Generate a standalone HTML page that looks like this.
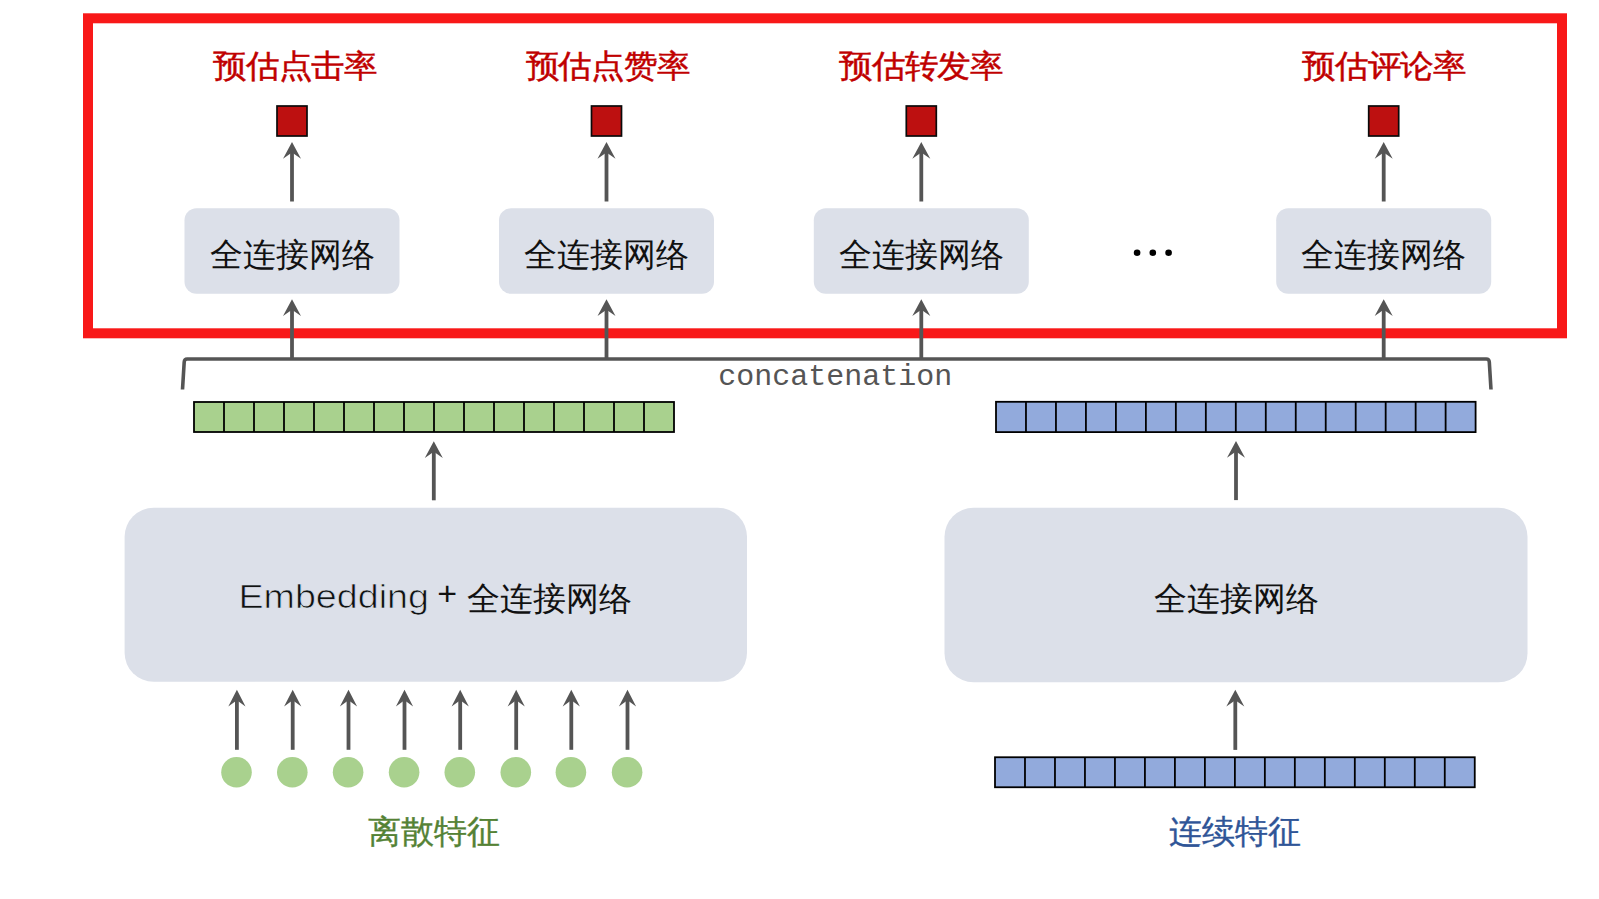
<!DOCTYPE html>
<html><head><meta charset="utf-8"><style>
html,body{margin:0;padding:0;background:#fff;width:1599px;height:899px;overflow:hidden}
svg{display:block}
</style></head><body>
<svg width="1599" height="899" viewBox="0 0 1599 899">
<rect x="88" y="18.3" width="1474" height="315" fill="none" stroke="#F81818" stroke-width="10"/>
<rect x="277" y="106" width="30" height="30" fill="#BD1010" stroke="#0a0a0a" stroke-width="1.7"/>
<line x1="292" y1="201.5" x2="292" y2="151.5" stroke="#555555" stroke-width="3.8"/><path d="M292 142 L301 158.8 L292 152.5 L283 158.8 Z" fill="#555555"/>
<rect x="184.5" y="208.3" width="215" height="85.5" rx="12" fill="#DCE0E9"/>
<line x1="292" y1="360" x2="292" y2="308.7" stroke="#555555" stroke-width="3.8"/><path d="M292 299.2 L301 316.0 L292 309.7 L283 316.0 Z" fill="#555555"/>
<rect x="591.5" y="106" width="30" height="30" fill="#BD1010" stroke="#0a0a0a" stroke-width="1.7"/>
<line x1="606.5" y1="201.5" x2="606.5" y2="151.5" stroke="#555555" stroke-width="3.8"/><path d="M606.5 142 L615.5 158.8 L606.5 152.5 L597.5 158.8 Z" fill="#555555"/>
<rect x="499.0" y="208.3" width="215" height="85.5" rx="12" fill="#DCE0E9"/>
<line x1="606.5" y1="360" x2="606.5" y2="308.7" stroke="#555555" stroke-width="3.8"/><path d="M606.5 299.2 L615.5 316.0 L606.5 309.7 L597.5 316.0 Z" fill="#555555"/>
<rect x="906.3" y="106" width="30" height="30" fill="#BD1010" stroke="#0a0a0a" stroke-width="1.7"/>
<line x1="921.3" y1="201.5" x2="921.3" y2="151.5" stroke="#555555" stroke-width="3.8"/><path d="M921.3 142 L930.3 158.8 L921.3 152.5 L912.3 158.8 Z" fill="#555555"/>
<rect x="813.8" y="208.3" width="215" height="85.5" rx="12" fill="#DCE0E9"/>
<line x1="921.3" y1="360" x2="921.3" y2="308.7" stroke="#555555" stroke-width="3.8"/><path d="M921.3 299.2 L930.3 316.0 L921.3 309.7 L912.3 316.0 Z" fill="#555555"/>
<rect x="1368.7" y="106" width="30" height="30" fill="#BD1010" stroke="#0a0a0a" stroke-width="1.7"/>
<line x1="1383.7" y1="201.5" x2="1383.7" y2="151.5" stroke="#555555" stroke-width="3.8"/><path d="M1383.7 142 L1392.7 158.8 L1383.7 152.5 L1374.7 158.8 Z" fill="#555555"/>
<rect x="1276.2" y="208.3" width="215" height="85.5" rx="12" fill="#DCE0E9"/>
<line x1="1383.7" y1="360" x2="1383.7" y2="308.7" stroke="#555555" stroke-width="3.8"/><path d="M1383.7 299.2 L1392.7 316.0 L1383.7 309.7 L1374.7 316.0 Z" fill="#555555"/>
<circle cx="1137.1" cy="252.7" r="3.3" fill="#000"/>
<circle cx="1152.8" cy="252.7" r="3.3" fill="#000"/>
<circle cx="1168.6" cy="252.7" r="3.3" fill="#000"/>
<path d="M182.5 389.5 L184.2 362 Q184.4 359 187.2 359 L1486.3 359 Q1489.1 359 1489.3 362 L1491 389.5" fill="none" stroke="#555555" stroke-width="3.6"/>
<rect x="194" y="402" width="480" height="30" fill="#A9D18E" stroke="#000" stroke-width="1.8"/><line x1="224.00" y1="402" x2="224.00" y2="432" stroke="#000" stroke-width="1.8"/><line x1="254.00" y1="402" x2="254.00" y2="432" stroke="#000" stroke-width="1.8"/><line x1="284.00" y1="402" x2="284.00" y2="432" stroke="#000" stroke-width="1.8"/><line x1="314.00" y1="402" x2="314.00" y2="432" stroke="#000" stroke-width="1.8"/><line x1="344.00" y1="402" x2="344.00" y2="432" stroke="#000" stroke-width="1.8"/><line x1="374.00" y1="402" x2="374.00" y2="432" stroke="#000" stroke-width="1.8"/><line x1="404.00" y1="402" x2="404.00" y2="432" stroke="#000" stroke-width="1.8"/><line x1="434.00" y1="402" x2="434.00" y2="432" stroke="#000" stroke-width="1.8"/><line x1="464.00" y1="402" x2="464.00" y2="432" stroke="#000" stroke-width="1.8"/><line x1="494.00" y1="402" x2="494.00" y2="432" stroke="#000" stroke-width="1.8"/><line x1="524.00" y1="402" x2="524.00" y2="432" stroke="#000" stroke-width="1.8"/><line x1="554.00" y1="402" x2="554.00" y2="432" stroke="#000" stroke-width="1.8"/><line x1="584.00" y1="402" x2="584.00" y2="432" stroke="#000" stroke-width="1.8"/><line x1="614.00" y1="402" x2="614.00" y2="432" stroke="#000" stroke-width="1.8"/><line x1="644.00" y1="402" x2="644.00" y2="432" stroke="#000" stroke-width="1.8"/>
<rect x="996" y="401.8" width="479.6" height="30.3" fill="#92AADC" stroke="#000" stroke-width="1.8"/><line x1="1025.97" y1="401.8" x2="1025.97" y2="432.1" stroke="#000" stroke-width="1.8"/><line x1="1055.95" y1="401.8" x2="1055.95" y2="432.1" stroke="#000" stroke-width="1.8"/><line x1="1085.92" y1="401.8" x2="1085.92" y2="432.1" stroke="#000" stroke-width="1.8"/><line x1="1115.90" y1="401.8" x2="1115.90" y2="432.1" stroke="#000" stroke-width="1.8"/><line x1="1145.88" y1="401.8" x2="1145.88" y2="432.1" stroke="#000" stroke-width="1.8"/><line x1="1175.85" y1="401.8" x2="1175.85" y2="432.1" stroke="#000" stroke-width="1.8"/><line x1="1205.83" y1="401.8" x2="1205.83" y2="432.1" stroke="#000" stroke-width="1.8"/><line x1="1235.80" y1="401.8" x2="1235.80" y2="432.1" stroke="#000" stroke-width="1.8"/><line x1="1265.78" y1="401.8" x2="1265.78" y2="432.1" stroke="#000" stroke-width="1.8"/><line x1="1295.75" y1="401.8" x2="1295.75" y2="432.1" stroke="#000" stroke-width="1.8"/><line x1="1325.72" y1="401.8" x2="1325.72" y2="432.1" stroke="#000" stroke-width="1.8"/><line x1="1355.70" y1="401.8" x2="1355.70" y2="432.1" stroke="#000" stroke-width="1.8"/><line x1="1385.67" y1="401.8" x2="1385.67" y2="432.1" stroke="#000" stroke-width="1.8"/><line x1="1415.65" y1="401.8" x2="1415.65" y2="432.1" stroke="#000" stroke-width="1.8"/><line x1="1445.62" y1="401.8" x2="1445.62" y2="432.1" stroke="#000" stroke-width="1.8"/>
<rect x="995" y="757.25" width="479.75" height="30" fill="#92AADC" stroke="#000" stroke-width="1.8"/><line x1="1024.98" y1="757.25" x2="1024.98" y2="787.25" stroke="#000" stroke-width="1.8"/><line x1="1054.97" y1="757.25" x2="1054.97" y2="787.25" stroke="#000" stroke-width="1.8"/><line x1="1084.95" y1="757.25" x2="1084.95" y2="787.25" stroke="#000" stroke-width="1.8"/><line x1="1114.94" y1="757.25" x2="1114.94" y2="787.25" stroke="#000" stroke-width="1.8"/><line x1="1144.92" y1="757.25" x2="1144.92" y2="787.25" stroke="#000" stroke-width="1.8"/><line x1="1174.91" y1="757.25" x2="1174.91" y2="787.25" stroke="#000" stroke-width="1.8"/><line x1="1204.89" y1="757.25" x2="1204.89" y2="787.25" stroke="#000" stroke-width="1.8"/><line x1="1234.88" y1="757.25" x2="1234.88" y2="787.25" stroke="#000" stroke-width="1.8"/><line x1="1264.86" y1="757.25" x2="1264.86" y2="787.25" stroke="#000" stroke-width="1.8"/><line x1="1294.84" y1="757.25" x2="1294.84" y2="787.25" stroke="#000" stroke-width="1.8"/><line x1="1324.83" y1="757.25" x2="1324.83" y2="787.25" stroke="#000" stroke-width="1.8"/><line x1="1354.81" y1="757.25" x2="1354.81" y2="787.25" stroke="#000" stroke-width="1.8"/><line x1="1384.80" y1="757.25" x2="1384.80" y2="787.25" stroke="#000" stroke-width="1.8"/><line x1="1414.78" y1="757.25" x2="1414.78" y2="787.25" stroke="#000" stroke-width="1.8"/><line x1="1444.77" y1="757.25" x2="1444.77" y2="787.25" stroke="#000" stroke-width="1.8"/>
<line x1="433.8" y1="500.3" x2="433.8" y2="450.7" stroke="#555555" stroke-width="3.8"/><path d="M433.8 441.2 L442.8 458.0 L433.8 451.7 L424.8 458.0 Z" fill="#555555"/>
<line x1="1236" y1="500.1" x2="1236" y2="450.5" stroke="#555555" stroke-width="3.8"/><path d="M1236 441 L1245 457.8 L1236 451.5 L1227 457.8 Z" fill="#555555"/>
<rect x="124.6" y="507.8" width="622.4" height="174" rx="29" fill="#DCE0E9"/>
<rect x="944.5" y="507.8" width="583" height="174.5" rx="29" fill="#DCE0E9"/>
<line x1="236.9" y1="749.8" x2="236.9" y2="699.3" stroke="#555555" stroke-width="3.8"/><path d="M236.9 689.8 L245.5 706.5999999999999 L236.9 700.3 L228.3 706.5999999999999 Z" fill="#555555"/>
<circle cx="236.5" cy="772.3" r="15.3" fill="#A9D18E"/>
<line x1="292.7" y1="749.8" x2="292.7" y2="699.3" stroke="#555555" stroke-width="3.8"/><path d="M292.7 689.8 L301.3 706.5999999999999 L292.7 700.3 L284.09999999999997 706.5999999999999 Z" fill="#555555"/>
<circle cx="292.3" cy="772.3" r="15.3" fill="#A9D18E"/>
<line x1="348.5" y1="749.8" x2="348.5" y2="699.3" stroke="#555555" stroke-width="3.8"/><path d="M348.5 689.8 L357.1 706.5999999999999 L348.5 700.3 L339.9 706.5999999999999 Z" fill="#555555"/>
<circle cx="348.1" cy="772.3" r="15.3" fill="#A9D18E"/>
<line x1="404.5" y1="749.8" x2="404.5" y2="699.3" stroke="#555555" stroke-width="3.8"/><path d="M404.5 689.8 L413.1 706.5999999999999 L404.5 700.3 L395.9 706.5999999999999 Z" fill="#555555"/>
<circle cx="404.1" cy="772.3" r="15.3" fill="#A9D18E"/>
<line x1="460.2" y1="749.8" x2="460.2" y2="699.3" stroke="#555555" stroke-width="3.8"/><path d="M460.2 689.8 L468.8 706.5999999999999 L460.2 700.3 L451.59999999999997 706.5999999999999 Z" fill="#555555"/>
<circle cx="459.8" cy="772.3" r="15.3" fill="#A9D18E"/>
<line x1="516.1999999999999" y1="749.8" x2="516.1999999999999" y2="699.3" stroke="#555555" stroke-width="3.8"/><path d="M516.1999999999999 689.8 L524.8 706.5999999999999 L516.1999999999999 700.3 L507.5999999999999 706.5999999999999 Z" fill="#555555"/>
<circle cx="515.8" cy="772.3" r="15.3" fill="#A9D18E"/>
<line x1="571.3" y1="749.8" x2="571.3" y2="699.3" stroke="#555555" stroke-width="3.8"/><path d="M571.3 689.8 L579.9 706.5999999999999 L571.3 700.3 L562.6999999999999 706.5999999999999 Z" fill="#555555"/>
<circle cx="570.9" cy="772.3" r="15.3" fill="#A9D18E"/>
<line x1="627.5" y1="749.8" x2="627.5" y2="699.3" stroke="#555555" stroke-width="3.8"/><path d="M627.5 689.8 L636.1 706.5999999999999 L627.5 700.3 L618.9 706.5999999999999 Z" fill="#555555"/>
<circle cx="627.1" cy="772.3" r="15.3" fill="#A9D18E"/>
<line x1="1235.3" y1="749.9" x2="1235.3" y2="699.3" stroke="#555555" stroke-width="3.8"/><path d="M1235.3 689.8 L1244.3 706.5999999999999 L1235.3 700.3 L1226.3 706.5999999999999 Z" fill="#555555"/>
<text transform="translate(295 77.3) scale(1.05 1)" x="0" y="0" font-size="31.5" fill="#C00000" stroke="#C00000" stroke-width="0.45" text-anchor="middle" font-weight="500" font-family="'Liberation Sans',sans-serif">预估点击率</text>
<text transform="translate(607.5 77.3) scale(1.05 1)" x="0" y="0" font-size="31.5" fill="#C00000" stroke="#C00000" stroke-width="0.45" text-anchor="middle" font-weight="500" font-family="'Liberation Sans',sans-serif">预估点赞率</text>
<text transform="translate(921 77.3) scale(1.05 1)" x="0" y="0" font-size="31.5" fill="#C00000" stroke="#C00000" stroke-width="0.45" text-anchor="middle" font-weight="500" font-family="'Liberation Sans',sans-serif">预估转发率</text>
<text transform="translate(1384 77.3) scale(1.05 1)" x="0" y="0" font-size="31.5" fill="#C00000" stroke="#C00000" stroke-width="0.45" text-anchor="middle" font-weight="500" font-family="'Liberation Sans',sans-serif">预估评论率</text>
<text x="292" y="266" font-size="33" fill="#111" text-anchor="middle" font-family="'Liberation Sans',sans-serif" font-weight="500">全连接网络</text>
<text x="606.5" y="266" font-size="33" fill="#111" text-anchor="middle" font-family="'Liberation Sans',sans-serif" font-weight="500">全连接网络</text>
<text x="921.3" y="266" font-size="33" fill="#111" text-anchor="middle" font-family="'Liberation Sans',sans-serif" font-weight="500">全连接网络</text>
<text x="1383.7" y="266" font-size="33" fill="#111" text-anchor="middle" font-family="'Liberation Sans',sans-serif" font-weight="500">全连接网络</text>
<text x="835.3" y="385" font-size="30" fill="#555" text-anchor="middle" font-family="'Liberation Mono',monospace" >concatenation</text>
<text transform="translate(238.4 607.6) scale(1.142 1)" x="0" y="0" font-size="33" fill="#111" stroke="#DCE0E9" stroke-width="0.7" font-family="'Liberation Sans',sans-serif">Embedding</text>
<text x="447.2" y="605" font-size="34" fill="#111" text-anchor="middle" font-family="'Liberation Sans',sans-serif" >+</text>
<text x="549" y="610" font-size="33" fill="#111" text-anchor="middle" font-family="'Liberation Sans',sans-serif" font-weight="500">全连接网络</text>
<text x="1236" y="610" font-size="33" fill="#111" text-anchor="middle" font-family="'Liberation Sans',sans-serif" font-weight="500">全连接网络</text>
<text x="433.5" y="843" font-size="33" fill="#548235" text-anchor="middle" font-family="'Liberation Sans',sans-serif" font-weight="500" stroke="#548235" stroke-width="0.35">离散特征</text>
<text x="1235.2" y="843" font-size="33" fill="#2F5597" text-anchor="middle" font-family="'Liberation Sans',sans-serif" font-weight="500" stroke="#2F5597" stroke-width="0.35">连续特征</text>
</svg>
</body></html>
